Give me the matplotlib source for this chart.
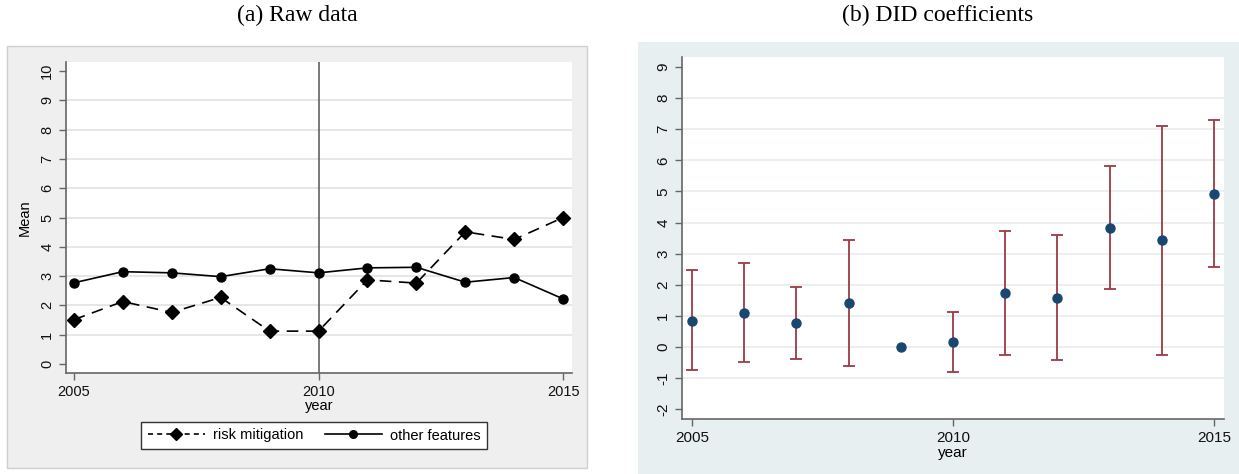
import matplotlib.pyplot as plt
import matplotlib.patches as mpatches
from matplotlib.lines import Line2D
import numpy as np

plt.rcParams['font.family'] = ['Liberation Sans', 'DejaVu Sans']
plt.rcParams['axes.unicode_minus'] = False

years = [2005, 2006, 2007, 2008, 2009, 2010, 2011, 2012, 2013, 2014, 2015]

# (a) raw means by group
risk_mitigation = [1.51, 2.13, 1.76, 2.27, 1.12, 1.12, 2.87, 2.76, 4.51, 4.25, 5.0]
other_features = [2.77, 3.15, 3.11, 2.98, 3.25, 3.11, 3.28, 3.30, 2.79, 2.95, 2.22]

# (b) event-study coefficients with 95% CI (2009 is the reference year)
coef = [0.85, 1.11, 0.77, 1.41, 0.0, 0.16, 1.73, 1.58, 3.84, 3.43, 4.91]
ci_low = [-0.75, -0.49, -0.37, -0.60, np.nan, -0.81, -0.24, -0.42, 1.86, -0.24, 2.56]
ci_high = [2.47, 2.70, 1.93, 3.43, np.nan, 1.13, 3.72, 3.60, 5.83, 7.10, 7.28]

W, H = 1239, 474
fig = plt.figure(figsize=(W / 100, H / 100), dpi=100)


def box(x0, y0, x1, y1):
    # pixel box (top-left origin) -> figure fraction rect
    return [x0 / W, (H - y1) / H, (x1 - x0) / W, (y1 - y0) / H]


def panel_bg(x0, y0, x1, y1, face, edge):
    l, b, w, h = box(x0, y0, x1, y1)
    fig.patches.append(mpatches.Rectangle((l, b), w, h, transform=fig.transFigure,
                                          facecolor=face, edgecolor=edge,
                                          linewidth=1, zorder=-5))


def style_axes(ax, axcol, tick_size):
    for s in ['top', 'right']:
        ax.spines[s].set_visible(False)
    for s in ['left', 'bottom']:
        ax.spines[s].set_color(axcol)
        ax.spines[s].set_linewidth(1.2)
    ax.tick_params(direction='out', length=5, width=1, color=axcol,
                   labelsize=tick_size, labelcolor='#111111')
    for lab in ax.get_yticklabels():
        lab.set_rotation(90)
        lab.set_va('center')


panel_bg(7, 46, 587, 468, '#efefef', '#cfcfcf')
panel_bg(638, 42, 1239, 474, '#e8eff1', 'none')

# ---- (a) Raw data ----
ax1 = fig.add_axes(box(66, 62, 572, 373))
ax1.set_facecolor('white')
ax1.set_xlim(2004.84, 2015.18)
ax1.set_ylim(-0.31, 10.31)
for v in range(1, 10):
    ax1.axhline(v, color='#e4e4e4', lw=1.3, zorder=1)
ax1.axvline(2010, color='#555555', lw=1.1, zorder=2)
ax1.plot(years, risk_mitigation, color='black', ls=(0, (7, 4.5)), lw=1.2,
         marker='D', ms=7.5, zorder=3)
ax1.plot(years, other_features, color='black', ls='-', lw=1.2,
         marker='o', ms=6.5, zorder=3)
ax1.set_xticks([2005, 2010, 2015])
ax1.set_yticks(range(0, 11))
ax1.set_xlabel('year', fontsize=10.5, labelpad=0)
ax1.set_ylabel('Mean', fontsize=10.5, labelpad=6)
style_axes(ax1, '#666666', 10.5)

handles = [Line2D([], [], color='black', ls=(0, (3, 2.5)), lw=1.2, marker='D', ms=6.5),
           Line2D([], [], color='black', ls='-', lw=1.2, marker='o', ms=5.5)]
leg = fig.legend(handles, ['risk mitigation', 'other features'], ncol=2,
                 loc='center', bbox_to_anchor=((145 + 483) / 2 / W, (H - 435.5) / H),
                 fontsize=10.5, frameon=True, fancybox=False, framealpha=1,
                 handlelength=3.9, handletextpad=0.55, columnspacing=1.5,
                 borderpad=0.45, borderaxespad=0)
leg.get_frame().set_edgecolor('#333333')
leg.get_frame().set_linewidth(1)

fig.text(297 / W, (H - 15) / H, '(a) Raw data', ha='center', va='center',
         fontsize=17, family='Liberation Serif')

# ---- (b) DID coefficients ----
ax2 = fig.add_axes(box(682, 57, 1224, 419))
ax2.set_facecolor('white')
ax2.set_xlim(2004.81, 2015.19)
ax2.set_ylim(-2.31, 9.32)
for v in range(-1, 9):
    ax2.axhline(v, color='#e8eff1', lw=1.3, zorder=1)
yerr = [np.array(coef) - np.array(ci_low), np.array(ci_high) - np.array(coef)]
ax2.errorbar(years, coef, yerr=yerr, fmt='none', ecolor='#9b3a44', elinewidth=1.3,
             capsize=4, capthick=1.3, zorder=2)
ax2.plot(years, coef, 'o', color='#1a476f', ms=6.5, zorder=3)
ax2.set_xticks([2005, 2010, 2015])
ax2.set_yticks(range(-2, 10))
ax2.set_xlabel('year', fontsize=11, labelpad=1)
style_axes(ax2, '#666666', 11)

fig.text(938 / W, (H - 15) / H, '(b) DID coefficients', ha='center', va='center',
         fontsize=17, family='Liberation Serif')

fig.savefig('out.png', dpi=100)
